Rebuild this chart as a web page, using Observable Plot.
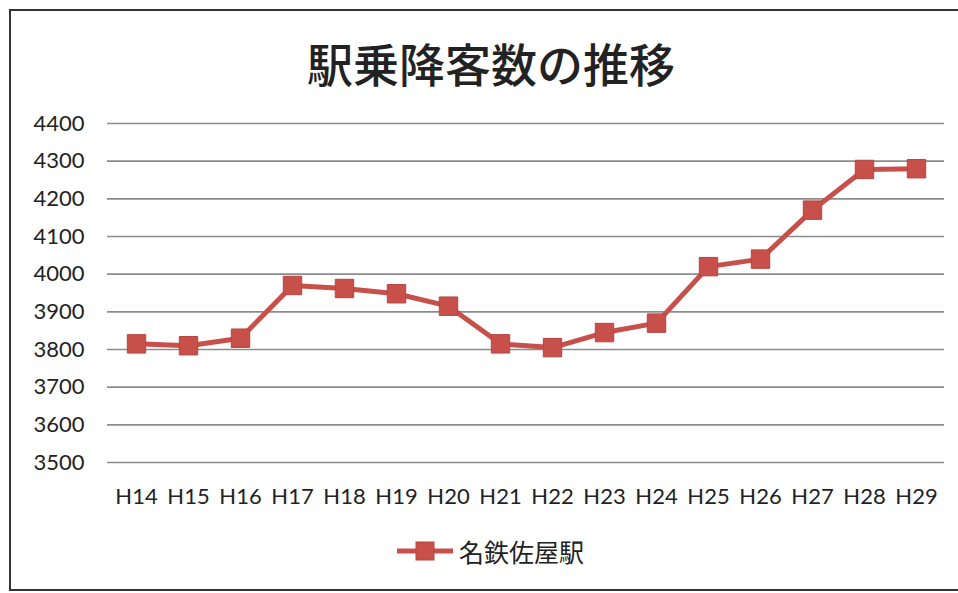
<!DOCTYPE html>
<html>
<head>
<meta charset="utf-8">
<script src="https://cdn.jsdelivr.net/npm/d3@7"></script>
<script src="https://cdn.jsdelivr.net/npm/@observablehq/plot@0.6"></script>
<style>
  html, body { margin: 0; padding: 0; background: #fff; }
  #frame { position: relative; width: 958px; height: 593px; overflow: hidden; background: #fff; }
  #border { position: absolute; left: 9px; top: 9px; width: 1000px; height: 578px;
            border-left: 2px solid #333; border-top: 2px solid #333; border-bottom: 2px solid #333; }
  #title { position: absolute; left: 0; top: 39px; width: 982px; text-align: center;
           font-family: "Noto Sans CJK JP", sans-serif; font-size: 46px; line-height: 46px;
           font-weight: 500; color: #222; }
  #chart { position: absolute; left: 0; top: 100px; }
  #legend { position: absolute; left: 397px; top: 537px; height: 28px; display: flex; align-items: center;
            font-family: "Noto Sans CJK JP", sans-serif; font-size: 25px; line-height: 28px; color: #222; }
  #legend svg { margin-right: 6px; }
</style>
</head>
<body>
<div id="frame">
  <div id="border"></div>
  <div id="title">駅乗降客数の推移</div>
  <div id="chart"></div>
  <div id="legend"></div>
</div>
<script>
// Data
const years = ["H14","H15","H16","H17","H18","H19","H20","H21","H22","H23","H24","H25","H26","H27","H28","H29"];
const passengers = [3815, 3810, 3830, 3970, 3962, 3948, 3915, 3815, 3805, 3845, 3870, 4020, 4040, 4170, 4278, 4280];
const yTicks = [3500, 3600, 3700, 3800, 3900, 4000, 4100, 4200, 4300, 4400];
const seriesName = "名鉄佐屋駅";
const lineColor = "#c8504b";

const data = years.map((y, i) => ({year: y, value: passengers[i]}));

const plot = Plot.plot({
  width: 958,
  height: 430,
  marginTop: 23,
  marginBottom: 68,
  marginLeft: 107,
  marginRight: 14,
  style: {fontFamily: "Lato, sans-serif", fontSize: "22px", color: "#222", background: "transparent"},
  x: {type: "point", domain: years, padding: 0.5, label: null},
  y: {domain: [3500, 4400], label: null},
  marks: [
    Plot.ruleY(yTicks, {stroke: "#8c8c8c", strokeWidth: 1.6}),
    Plot.axisY({ticks: yTicks, tickFormat: d3.format("d"), tickSize: 0, tickPadding: 23, label: null, fontSize: 22}),
    Plot.axisX({tickSize: 0, tickPadding: 26, label: null, fontSize: 22}),
    Plot.line(data, {x: "year", y: "value", stroke: lineColor, strokeWidth: 5}),
    Plot.dot(data, {x: "year", y: "value", symbol: "square", r: 10.4, fill: lineColor, stroke: "#b8443f", strokeWidth: 1})
  ]
});
document.getElementById("chart").appendChild(plot);

// Legend
const legend = document.getElementById("legend");
const sw = d3.create("svg").attr("width", 56).attr("height", 28);
sw.append("line").attr("x1", 0).attr("x2", 56).attr("y1", 14).attr("y2", 14)
  .attr("stroke", lineColor).attr("stroke-width", 5);
sw.append("rect").attr("x", 19).attr("y", 5).attr("width", 18).attr("height", 18)
  .attr("fill", lineColor).attr("stroke", "#b8443f");
legend.appendChild(sw.node());
const lt = document.createElement("span");
lt.textContent = seriesName;
legend.appendChild(lt);
</script>
</body>
</html>
